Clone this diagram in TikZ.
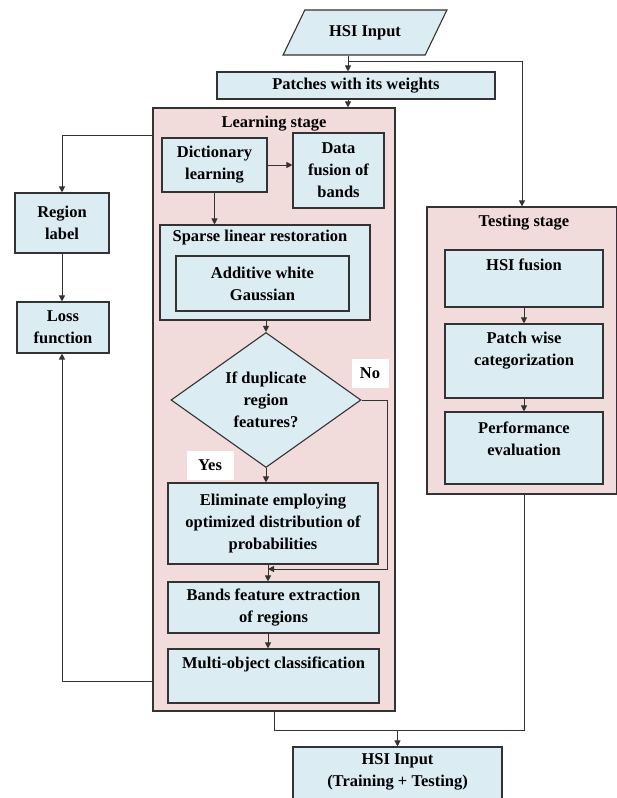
\documentclass[tikz,border=0pt]{standalone}
\usepackage{fontspec}
\setmainfont{Liberation Serif}
\usepackage{xcolor}
\usetikzlibrary{arrows.meta, shapes.geometric}
\definecolor{boxblue}{HTML}{DBECF2}
\definecolor{stagepink}{HTML}{F2DCDB}
\definecolor{edgegray}{HTML}{333333}

\begin{document}
\begin{tikzpicture}[x=1pt, y=-1pt,
  txt/.style={font=\fontsize{16.5}{22}\selectfont\bfseries, align=center, inner sep=0pt},
  box/.style={txt, draw=edgegray, line width=1.1pt, fill=boxblue},
  stage/.style={draw=edgegray, line width=1.2pt, fill=stagepink, inner sep=0pt},
  tag/.style={txt, fill=white, minimum height=29pt},
  arr/.style={draw=edgegray, line width=1pt, -{Triangle[length=6pt,width=6pt]}},
  link/.style={draw=edgegray, line width=1pt}]
  \useasboundingbox (0,0) rectangle (616,798);
  % estagios
  \node[stage, minimum width=242pt, minimum height=603pt] (learn) at (274,409.5) {};
  \node[txt] (learnt) at (274,124) {Learning stage};
  \node[stage, minimum width=190pt, minimum height=287pt] (test) at (522,350.5) {};
  \node[txt] (testt) at (524,223) {Testing stage};
  % entrada
  \node[box, trapezium, trapezium left angle=48, trapezium right angle=132,
        trapezium stretches=true, minimum width=164pt, minimum height=45pt]
    (hsi) at (365,32.5) {HSI Input};
  \node[box, minimum width=278pt, minimum height=27pt] (patch) at (356,85.5)
    {Patches with its weights};
  \coordinate (trunk) at (348,0);
  \coordinate (split) at (348,61);
  % aprendizado
  \node[box, minimum width=105pt, minimum height=54pt] (dict) at (214.5,165)
    {Dictionary\\learning};
  \node[box, minimum width=91pt, minimum height=75pt] (fusband) at (338.5,170.5)
    {Data\\fusion of\\bands};
  \node[box, minimum width=210pt, minimum height=95pt] (sparse) at (265,272.5) {};
  \node[txt] (sparset) at (260,238) {Sparse linear restoration};
  \node[box, minimum width=173pt, minimum height=55pt] (awg) at (262.5,283.5)
    {Additive white\\Gaussian};
  \node[box, diamond, aspect=1.4, inner sep=0pt, minimum width=190pt,
        minimum height=135pt] (dia) at (266,400) {If duplicate\\region\\features?};
  \node[tag, minimum width=37pt] (no) at (370,373) {No};
  \node[tag, minimum width=47pt] (yes) at (210,465) {Yes};
  \node[box, minimum width=210pt, minimum height=81pt] (elim) at (273,523.5)
    {Eliminate employing\\optimized distribution of\\probabilities};
  \node[box, minimum width=211pt, minimum height=51pt] (bands) at (273.5,607.5)
    {Bands feature extraction\\of regions};
  \node[box, minimum width=211pt, minimum height=54pt] (multi) at (273.5,676) {};
  \node[txt] (multit) at (273.5,664) {Multi-object classification};
  \coordinate (noturn) at (387,400);
  \coordinate (nojoin) at (268,569);
  % rotulo e perda
  \node[box, minimum width=94pt, minimum height=60pt] (region) at (62,223)
    {Region\\label};
  \node[box, minimum width=92pt, minimum height=51pt] (loss) at (63,327.5)
    {Loss\\function};
  % teste
  \node[box, minimum width=158pt, minimum height=57pt] (hsifus) at (524,278.5) {};
  \node[txt] (hsifust) at (524,265) {HSI fusion};
  \node[box, minimum width=158pt, minimum height=74pt] (patchw) at (524,361) {};
  \node[txt] (patchwt) at (524,350.5) {Patch wise\\categorization};
  \node[box, minimum width=158pt, minimum height=72pt] (perf) at (524,448) {};
  \node[txt] (perft) at (524,439) {Performance\\evaluation};
  % saida
  \node[box, minimum width=209pt, minimum height=66pt] (hsiout) at (397.5,780) {};
  \node[txt] (hsioutt) at (397.5,772) {HSI Input\\(Training + Testing)};
  \coordinate (merge) at (397.5,730);
  % ligacoes
  \draw[arr] (hsi.south -| trunk) -- (patch.north -| trunk);
  \draw[arr] (split) -| (test.north);
  \draw[arr] (patch.south -| trunk) -- (learn.north -| trunk);
  \draw[arr] (dict.east) -- (fusband.west |- dict.east);
  \draw[arr] (dict.south) -- (sparse.north -| dict.south);
  \draw[arr] (sparse.south -| dia.north) -- (dia.north);
  \draw[arr] (dia.south) -- (elim.north -| dia.south);
  \draw[arr] (dia.east) -- (noturn) |- (nojoin);
  \draw[arr] (elim.south -| nojoin) -- (bands.north -| nojoin);
  \draw[arr] (bands.south -| nojoin) -- (multi.north -| nojoin);
  \draw[arr] (learn.west |- 0,135) -| (region.north);
  \draw[arr] (region.south) -- (loss.north -| region.south);
  \draw[arr] (learn.west |- 0,681) -| (loss.south -| region.south);
  \draw[arr] (hsifus.south) -- (patchw.north);
  \draw[arr] (patchw.south) -- (perf.north);
  \draw[link] (learn.south) |- (merge);
  \draw[link] (test.south -| hsifus.south) |- (merge);
  \draw[arr] (merge) -- (hsiout.north);
\end{tikzpicture}
\end{document}
